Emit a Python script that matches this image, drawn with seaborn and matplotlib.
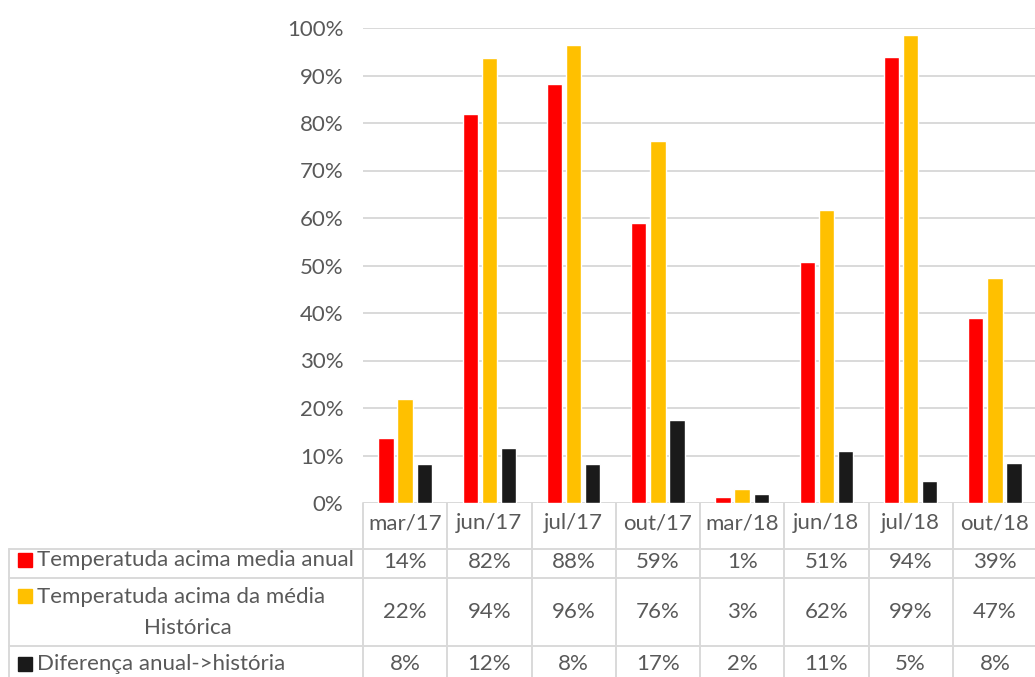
import numpy as np
import pandas as pd
import matplotlib
matplotlib.use("Agg")
import matplotlib.pyplot as plt
import seaborn as sns
from matplotlib.transforms import blended_transform_factory
from matplotlib.patches import Rectangle
from matplotlib.lines import Line2D

# chart data
months = ["mar/17", "jun/17", "jul/17", "out/17", "mar/18", "jun/18", "jul/18", "out/18"]
acima_anual = [13.7, 82.0, 88.2, 59.0, 1.2, 50.7, 93.8, 38.9]
acima_historica = [22.0, 93.6, 96.4, 76.3, 3.0, 61.6, 98.6, 47.3]
diferenca = [8.3, 11.6, 8.2, 17.4, 1.8, 11.0, 4.7, 8.5]
series_names = ["Temperatuda acima media anual",
                "Temperatuda acima da média Histórica",
                "Diferença anual->história"]
series_colors = ["#FF0000", "#FFC000", "#1A1A1A"]
ytick_values = [0, 10, 20, 30, 40, 50, 60, 70, 80, 90, 100]

W, H = 1035, 677
TXT = "#595959"
GRID = "#D9D9D9"
FS = 16

sns.set_style("white")
plt.rcParams["font.family"] = ["Lato", "DejaVu Sans"]

df = pd.DataFrame({
    "mes": months * 3,
    "serie": [series_names[0]] * 8 + [series_names[1]] * 8 + [series_names[2]] * 8,
    "valor": acima_anual + acima_historica + diferenca,
})


def fx(x):
    return x / W


def fy(y):
    return 1 - y / H


fig = plt.figure(figsize=(W / 100, H / 100), dpi=100)
ax = fig.add_axes([fx(363), fy(503), fx(1037) - fx(363), fy(28) - fy(503)])

sns.barplot(data=df, x="mes", y="valor", hue="serie", order=months,
            hue_order=series_names, palette=series_colors, width=0.68, gap=0.2,
            saturation=1, legend=False, ax=ax)

ax.set_ylim(0, 100)
ax.set_xlim(-0.5, len(months) - 0.5)
ax.set_yticks(ytick_values)
ax.set_yticklabels([f"{v}%" for v in ytick_values])
ax.tick_params(axis="y", length=0, pad=14, labelsize=FS, labelcolor=TXT)
ax.set_xticks([])
ax.set_xlabel("")
ax.set_ylabel("")
ax.grid(axis="y", color=GRID, lw=1.4, zorder=0)
ax.set_axisbelow(True)
for s in ax.spines.values():
    s.set_visible(False)

# data table below the plot
tr = blended_transform_factory(ax.transData, fig.transFigure)
row_lines = [549, 578, 646]
row_centers = [562, 612, 664]
for y in row_lines:
    fig.add_artist(Line2D([fx(9), 1.01], [fy(y), fy(y)], color=GRID, lw=1.4))
fig.add_artist(Line2D([fx(9), fx(9)], [fy(549), 0], color=GRID, lw=1.4))
for i in range(len(months) + 1):
    fig.add_artist(Line2D([i - 0.5, i - 0.5], [fy(503), 0], color=GRID, lw=1.4,
                          transform=tr))

for i, m in enumerate(months):
    fig.text(i, fy(523), m, transform=tr, ha="center", va="center",
             fontsize=FS, color=TXT)

table_rows = [acima_anual, acima_historica, diferenca]
for r, vals in enumerate(table_rows):
    for i, v in enumerate(vals):
        fig.text(i, fy(row_centers[r]), f"{v:.0f}%", transform=tr,
                 ha="center", va="center", fontsize=FS, color=TXT)

# row headers with legend keys
key_y = [560, 596, 664]
for r, c in enumerate(series_colors):
    fig.add_artist(Rectangle((fx(18), fy(key_y[r] + 7)), fx(14), fy(0) - fy(14),
                             color=c, transform=fig.transFigure))
fig.text(fx(37), fy(560), "Temperatuda acima media anual", ha="left", va="center",
         fontsize=FS, color=TXT)
fig.text(fx(37), fy(597), "Temperatuda acima da média", ha="left", va="center",
         fontsize=FS, color=TXT)
fig.text(fx(188), fy(628), "Histórica", ha="center", va="center",
         fontsize=FS, color=TXT)
fig.text(fx(37), fy(664), "Diferença anual->história", ha="left", va="center",
         fontsize=FS, color=TXT)

fig.savefig("out.png", dpi=100)
